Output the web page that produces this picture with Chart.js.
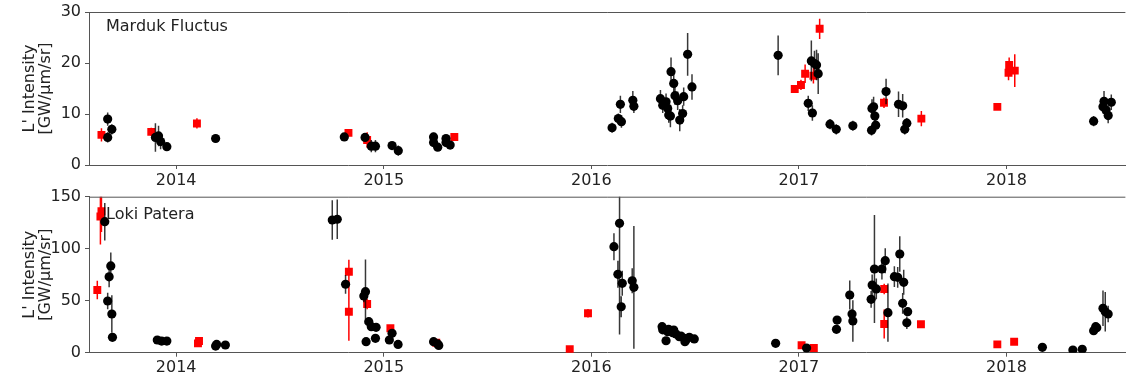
<!DOCTYPE html>
<html>
<head>
<meta charset="utf-8">
<script src="https://cdn.jsdelivr.net/npm/chart.js@4.4.0/dist/chart.umd.min.js"></script>
<style>
  body { margin: 0; background: #fff; overflow: hidden; }
  .panel { position: absolute; left: 0; width: 1131px; }
  #top { top: 0; height: 190px; }
  #bottom { top: 184px; height: 194px; }
</style>
</head>
<body>
<div class="panel" id="top"><canvas id="marduk"></canvas></div>
<div class="panel" id="bottom"><canvas id="loki"></canvas></div>
<script>
// Marduk Fluctus - circles (black) and squares (red): decimal year, intensity, 1-sigma error
const mardukCircleYears = [2013.67, 2013.67, 2013.69, 2013.90, 2013.915, 2013.925, 2013.955, 2014.19,
  2014.81, 2014.91, 2014.94, 2014.96, 2015.04, 2015.07, 2015.24, 2015.24, 2015.26, 2015.30, 2015.30, 2015.32,
  2016.10, 2016.13, 2016.14, 2016.145, 2016.20, 2016.205, 2016.333, 2016.344, 2016.36, 2016.368, 2016.373,
  2016.381, 2016.384, 2016.397, 2016.403, 2016.416, 2016.426, 2016.44, 2016.445, 2016.464, 2016.485,
  2016.90, 2017.045, 2017.065, 2017.06, 2017.075, 2017.085, 2017.093, 2017.15, 2017.18, 2017.26, 2017.35,
  2017.352, 2017.36, 2017.366, 2017.37, 2017.42, 2017.48, 2017.50, 2017.52, 2017.51,
  2018.42, 2018.465, 2018.47, 2018.48, 2018.49, 2018.505];
const mardukCircleValues = [9.0, 5.4, 7.0, 5.4, 5.7, 4.6, 3.6, 5.2,
  5.5, 5.4, 3.7, 3.7, 3.8, 2.8, 5.5, 4.4, 3.5, 5.2, 4.4, 3.9,
  7.3, 9.1, 11.9, 8.5, 12.7, 11.5, 13.0, 11.7, 12.4, 11.1, 9.8,
  9.6, 18.3, 16.0, 13.6, 12.6, 8.8, 10.1, 13.4, 21.7, 15.3,
  21.5, 12.1, 10.2, 20.4, 19.9, 19.6, 17.9, 8.0, 7.0, 7.7, 6.8,
  11.1, 11.4, 9.6, 7.8, 14.4, 11.9, 11.6, 8.2, 7.0,
  8.6, 11.4, 12.5, 10.8, 9.7, 12.3];
const mardukCircleErrors = [1.3, 1.0, 1.0, 2.8, 2.0, 1.5, 0.5, 0.8,
  0.5, 0.8, 1.2, 1.2, 0.4, 1.0, 0.8, 0.6, 0.5, 0.6, 0.6, 0.5,
  1.0, 1.0, 1.7, 1.2, 1.8, 1.3, 1.7, 1.5, 1.6, 1.5, 1.5,
  2.2, 2.8, 2.0, 1.8, 1.8, 2.2, 1.6, 1.8, 4.2, 2.5,
  3.9, 1.5, 1.5, 4.0, 2.5, 3.0, 4.0, 1.0, 1.0, 1.0, 1.0,
  1.8, 2.0, 1.5, 1.2, 2.5, 2.5, 2.3, 1.0, 1.0,
  1.0, 1.3, 2.0, 1.3, 1.5, 1.5];

const mardukSquareYears = [2013.64, 2013.88, 2014.10, 2014.83, 2014.92, 2015.34,
  2016.98, 2017.01, 2017.03, 2017.07, 2017.10, 2017.41, 2017.59, 2017.956, 2018.01, 2018.013, 2018.04];
const mardukSquareValues = [5.9, 6.5, 8.15, 6.3, 4.9, 5.5,
  14.9, 15.7, 17.9, 17.5, 26.7, 12.2, 9.1, 11.4, 18.1, 19.6, 18.5];
const mardukSquareErrors = [1.3, 0.8, 1.0, 0.7, 1.5, 0.3,
  0.5, 1.0, 1.8, 1.5, 2.0, 1.0, 1.5, 0.5, 1.5, 1.5, 3.2];

// Loki Patera
const lokiCircleYears = [2013.656, 2013.685, 2013.677, 2013.67, 2013.69, 2013.693, 2013.909, 2013.93, 2013.955,
  2014.19, 2014.195, 2014.237, 2014.752, 2014.776, 2014.816, 2014.904, 2014.912, 2014.928, 2014.94, 2014.963,
  2014.915, 2014.96, 2015.04, 2015.027, 2015.069, 2015.24, 2015.26, 2015.265,
  2016.109, 2016.136, 2016.128, 2016.149, 2016.144, 2016.197, 2016.205,
  2016.341, 2016.344, 2016.36, 2016.368, 2016.372, 2016.392, 2016.397, 2016.408, 2016.424, 2016.432,
  2016.448, 2016.451, 2016.456, 2016.472, 2016.496,
  2016.888, 2017.037, 2017.181, 2017.184, 2017.245, 2017.256, 2017.26, 2017.348, 2017.353, 2017.364,
  2017.373, 2017.40, 2017.416, 2017.429, 2017.46, 2017.476, 2017.486, 2017.505, 2017.50, 2017.524, 2017.52,
  2018.173, 2018.32, 2018.365, 2018.42, 2018.43, 2018.435, 2018.465, 2018.476, 2018.49];
const lokiCircleValues = [126, 83.4, 73, 49.7, 37.2, 14.8, 12.2, 11.2, 11.2,
  6.4, 8.0, 7.4, 127.6, 128.3, 65.8, 54.5, 58.7, 29.8, 25.0, 24.4,
  10.6, 13.8, 18.6, 12.2, 8.0, 10.6, 8.4, 7.0,
  101.9, 124.4, 75.4, 66.7, 44.2, 69.2, 62.9,
  25.0, 22.0, 11.5, 20.2, 22.5, 19.2, 21.8, 18.0, 15.4, 16.0,
  13.8, 10.6, 12.2, 14.8, 13.2,
  9.0, 4.5, 22.5, 31.4, 55.5, 37.2, 30.5, 51.3, 65.1, 80.5,
  61.3, 80.5, 88.5, 38.5, 73.1, 72.5, 94.9, 67.7, 47.5, 39.4, 28.8,
  5.2, 2.6, 3.2, 21.2, 25.0, 24.0, 42.7, 39.4, 37.2];
const lokiCircleErrors = [18, 13, 10, 8, 18, 3, 2, 2, 2,
  1.5, 1.5, 1.5, 19, 19, 9, 6, 31, 4, 3, 3,
  2, 2, 3, 2, 2, 4, 2, 2,
  13, 107, 13, 12, 10, 12, 59,
  3, 3, 3, 3, 3, 3, 3, 2, 2, 2,
  2, 2, 2, 2, 2,
  1.5, 1, 3, 4, 14, 5, 20, 8, 10, 52,
  10, 10, 12, 28, 10, 10, 17, 12, 10, 4, 6,
  1, 0.5, 0.5, 3, 4, 3, 17, 19, 8];

const lokiSquareYears = [2013.62, 2013.635, 2013.64, 2014.105, 2014.11, 2014.832, 2014.832, 2014.92, 2015.032,
  2015.253, 2015.896, 2015.984, 2017.013, 2017.072, 2017.411, 2017.411, 2017.588, 2017.956, 2018.037];
const lokiSquareValues = [60.3, 131, 136, 9.0, 11.2, 77.9, 39.4, 46.8, 23.5,
  9.6, 3.3, 37.9, 7.1, 4.5, 61.3, 27.6, 27.3, 8.0, 10.6];
const lokiSquareErrors = [9, 27, 20, 2, 2, 11.5, 28, 5, 2,
  2, 0.5, 4, 1, 1, 5, 14, 2, 1, 1];

const yearTicks = [2014, 2015, 2016, 2017, 2018];
const mardukTicks = [0, 10, 20, 30];
const lokiTicks = [0, 50, 100, 150];

Chart.defaults.font.family = "'DejaVu Sans', sans-serif";
Chart.defaults.font.size = 16;
Chart.defaults.color = '#222';

const spine = '#555';

// vertical error bars, drawn under each dataset's markers
const errorBars = {
  id: 'errorBars',
  beforeDatasetDraw(chart, args) {
    const ds = chart.data.datasets[args.index];
    if (!ds.errors) return;
    const { ctx, chartArea: a, scales: { x, y } } = chart;
    ctx.save();
    ctx.beginPath();
    ctx.rect(a.left, a.top, a.right - a.left, a.bottom - a.top);
    ctx.clip();
    ctx.strokeStyle = ds.barColor;
    ctx.lineWidth = 1.5;
    ctx.beginPath();
    ds.data.forEach((p, i) => {
      const px = x.getPixelForValue(p.x);
      ctx.moveTo(px, y.getPixelForValue(p.y - ds.errors[i]));
      ctx.lineTo(px, y.getPixelForValue(p.y + ds.errors[i]));
    });
    ctx.stroke();
    ctx.restore();
  }
};

// top spine and the panel name in the corner
const frame = {
  id: 'frame',
  afterDraw(chart, args, opts) {
    const { ctx, chartArea: a } = chart;
    ctx.save();
    ctx.strokeStyle = spine;
    ctx.lineWidth = 1;
    ctx.beginPath();
    ctx.moveTo(a.left, a.top + 0.5);
    ctx.lineTo(a.right, a.top + 0.5);
    ctx.stroke();
    ctx.fillStyle = '#222';
    ctx.font = "16px 'DejaVu Sans'";
    ctx.textBaseline = 'middle';
    ctx.fillText(opts.text, a.left + 17, a.top + opts.dy);
    ctx.restore();
  }
};

function points(xs, ys) {
  return xs.map((x, i) => ({ x, y: ys[i] }));
}

function panel(id, name, nameDy, padTop, xHeight, circles, squares, ticks) {
  return new Chart(document.getElementById(id), {
    type: 'scatter',
    data: {
      datasets: [
        {
          data: points(circles[0], circles[1]), errors: circles[2], barColor: 'rgba(0,0,0,0.78)',
          pointStyle: 'circle', pointRadius: 4.6, backgroundColor: '#000', borderWidth: 0
        },
        {
          data: points(squares[0], squares[1]), errors: squares[2], barColor: '#f00',
          pointStyle: 'rect', pointRadius: 5.6, backgroundColor: '#f00', borderWidth: 0
        }
      ]
    },
    options: {
      responsive: true,
      maintainAspectRatio: false,
      animation: false,
      events: [],
      layout: { padding: { top: padTop, left: 0, right: 0, bottom: 0 } },
      plugins: {
        legend: { display: false },
        tooltip: { enabled: false },
        frame: { text: name, dy: nameDy }
      },
      scales: {
        x: {
          type: 'linear',
          min: 2013.58,
          max: 2018.573,
          afterBuildTicks: s => { s.ticks = yearTicks.map(v => ({ value: v })); },
          afterFit: s => { s.height = xHeight; },
          ticks: { callback: v => String(v), padding: 2, maxRotation: 0, autoSkip: false },
          grid: { drawOnChartArea: false, tickLength: 4, color: spine },
          border: { color: spine, width: 1 }
        },
        y: {
          min: ticks[0],
          max: ticks[ticks.length - 1],
          afterBuildTicks: s => { s.ticks = ticks.map(v => ({ value: v })); },
          afterFit: s => { s.width = 89; s.paddingTop = 0; s.paddingBottom = 0; },
          ticks: { padding: 4 },
          grid: { drawOnChartArea: false, tickLength: 4, color: spine },
          border: { color: spine, width: 1 },
          title: {
            display: true,
            text: ["L' Intensity", '[GW/\u03bcm/sr]'],
            font: { size: 16, lineHeight: 1.05 },
            padding: { top: 21, bottom: 0 }
          }
        }
      }
    },
    plugins: [errorBars, frame]
  });
}

panel('marduk', 'Marduk Fluctus', 15, 12, 25,
  [mardukCircleYears, mardukCircleValues, mardukCircleErrors],
  [mardukSquareYears, mardukSquareValues, mardukSquareErrors], mardukTicks);

panel('loki', 'Loki Patera', 18, 12.7, 25.3,
  [lokiCircleYears, lokiCircleValues, lokiCircleErrors],
  [lokiSquareYears, lokiSquareValues, lokiSquareErrors], lokiTicks);
</script>
</body>
</html>
